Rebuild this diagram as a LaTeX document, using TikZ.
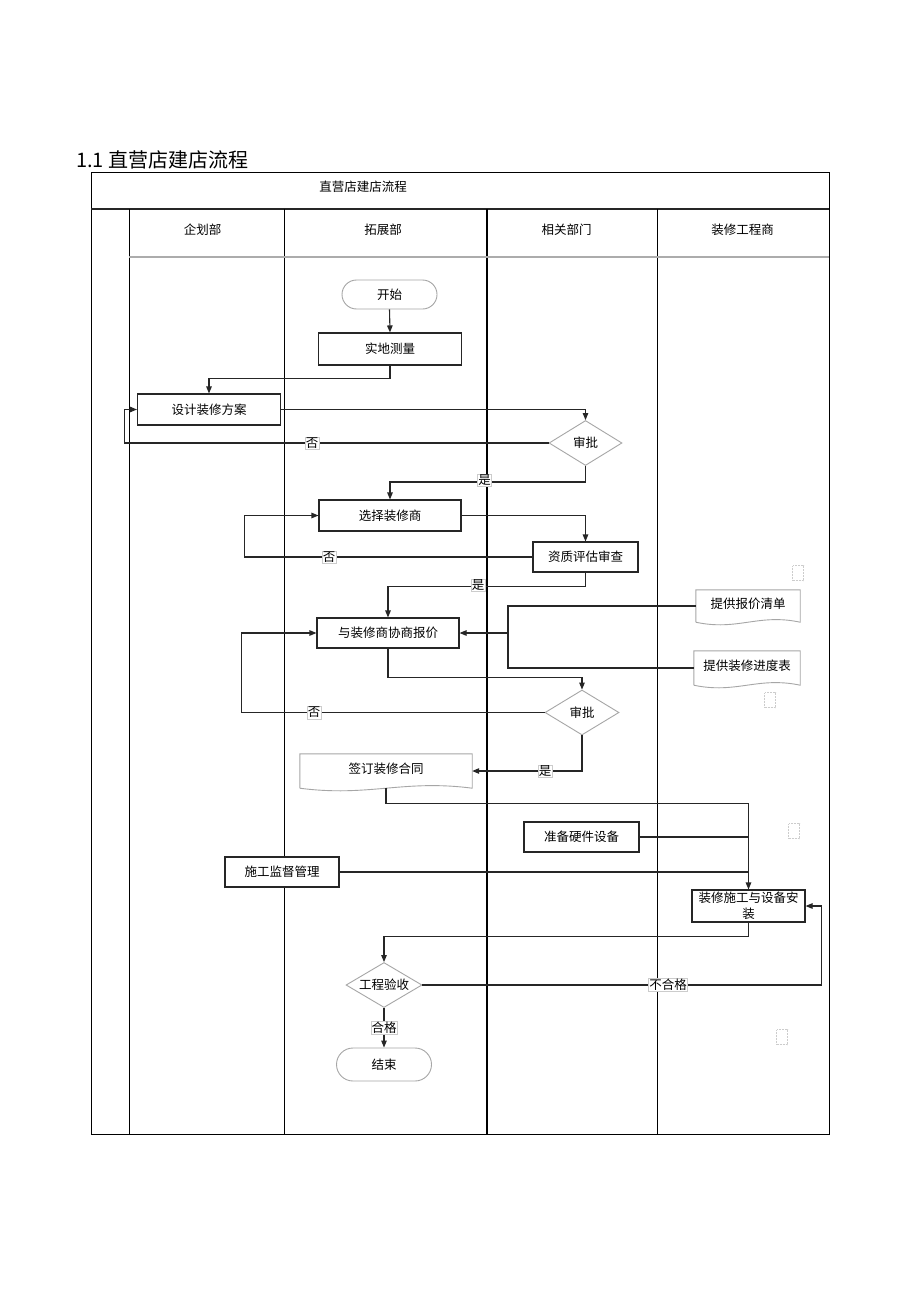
\documentclass[tikz,border=0pt]{standalone}
\usepackage{fontspec}
\setmainfont{Noto Sans CJK SC}
\usetikzlibrary{shapes.geometric,shapes.misc,arrows.meta,calc}
\begin{document}
\begin{tikzpicture}[x=1pt,y=-1pt,
  txt/.style={font=\fontsize{12.5}{16}\selectfont},
  proc/.style={txt,draw=black!85,line width=1.1pt,rectangle,inner sep=0pt,fill=white},
  term/.style={txt,draw=gray!70,line width=0.9pt,rounded rectangle,inner sep=0pt,fill=white},
  dec/.style={txt,draw=gray!70,line width=0.9pt,diamond,inner sep=0pt,aspect=1.7,fill=white},
  docnode/.style={txt,draw=none,rectangle,inner sep=0pt},
  docline/.style={draw=gray!70,line width=0.9pt},
  lbl/.style={txt,fill=white,draw=gray!40,line width=0.4pt,inner sep=0.8pt},
  ghost/.style={draw=gray!40,densely dotted,line width=0.5pt,minimum width=11pt,minimum height=15pt,inner sep=0pt},
  arr/.style={draw=black!85,line width=1.1pt,-{Triangle[length=7pt,width=5.5pt]}},
  ln/.style={draw=black!85,line width=1.1pt},
]
\useasboundingbox (0,0) rectangle (920,1303);
\fill[white] (0,0) rectangle (920,1303);

% title
\node[anchor=west,font=\fontsize{20}{24}\selectfont,inner sep=0pt] (title) at (76,160) {1.1 直营店建店流程};

% frame and lanes
\draw[line width=0.9pt] (91,172) rectangle (829,1134);
\draw[line width=2.2pt,black!85] (91,209) -- (829,209);
\draw[line width=1pt] (129,209) -- (129,1134);
\draw[line width=1pt] (284,209) -- (284,1134);
\draw[line width=2pt] (487,209) -- (487,1134);
\draw[line width=1pt] (657,209) -- (657,1134);
\draw[line width=1.3pt,gray!65] (129,257) -- (829,257);

\node[txt] (head) at (363,187) {直营店建店流程};
\node[txt] (lane1) at (202.5,230) {企划部};
\node[txt] (lane2) at (383,230) {拓展部};
\node[txt] (lane3) at (566.5,230) {相关部门};
\node[txt] (lane4) at (742.5,230) {装修工程商};

% nodes
\node[term,minimum width=95pt,minimum height=29pt] (start) at (389.5,294.5) {开始};
\node[proc,minimum width=143pt,minimum height=32pt] (survey) at (390,349) {实地测量};
\node[proc,minimum width=143pt,minimum height=31pt] (design) at (209,409.5) {设计装修方案};
\node[dec,minimum width=73pt,minimum height=45pt] (ap1) at (585.5,443) {审批};
\node[proc,minimum width=142pt,minimum height=31pt] (select) at (390,515.5) {选择装修商};
\node[proc,minimum width=105pt,minimum height=30pt] (qual) at (585.5,557) {资质评估审查};
\node[proc,minimum width=142pt,minimum height=30pt] (nego) at (388,633) {与装修商协商报价};
\node[docnode,minimum width=104pt,minimum height=32pt] (quote) at (748,606) {\raisebox{5pt}{提供报价清单}};
\node[docnode,minimum width=106pt,minimum height=34pt] (sched) at (747,668) {\raisebox{5pt}{提供装修进度表}};
\node[dec,minimum width=74pt,minimum height=45pt] (ap2) at (582,712.5) {审批};
\node[docnode,minimum width=172pt,minimum height=34pt] (contract) at (386,771) {\raisebox{6pt}{签订装修合同}};
\node[proc,minimum width=115pt,minimum height=30pt] (hw) at (581.5,837) {准备硬件设备};
\node[proc,minimum width=114pt,minimum height=30pt] (sup) at (282,872) {施工监督管理};
\node[proc,minimum width=113pt,minimum height=32pt,align=center] (build) at (748.5,906) {装修施工与设备安\\装};
\node[dec,minimum width=76pt,minimum height=45pt] (accept) at (384,985) {工程验收};
\node[term,minimum width=95pt,minimum height=33pt] (end) at (384,1064.5) {结束};

% document outlines
\foreach \n in {quote,sched,contract}{
  \draw[docline] (\n.south west) -- (\n.north west) -- (\n.north east) -- (\n.south east)
    .. controls ($(\n.south east)!0.4!(\n.south west)+(0,-9)$) and ($(\n.south west)!0.4!(\n.south east)+(0,9)$) .. (\n.south west);
}

% small empty boxes
\node[ghost] (g1) at (798,573) {};
\node[ghost] (g2) at (770,700) {};
\node[ghost] (g3) at (794,831) {};
\node[ghost] (g4) at (782,1037) {};

% connectors
\draw[arr] (start.south) -- (survey.north);
\draw[arr] (survey.south) -- ++(0,13) -| (design.north);
\draw[arr] (design.east) -| (ap1.north);
\draw[arr] (ap1.west) -- ++(-424,0) |- (design.west);
\draw[arr] (ap1.south) -- ++(0,16) -| (select.north);
\draw[arr] (select.east) -| (qual.north);
\draw[arr] (qual.west) -- ++(-288,0) |- (select.west);
\draw[arr] (qual.south) -- ++(0,14) -| (nego.north);
\coordinate (jx) at (508,633);
\draw[ln] (quote.west) -| (jx) |- (sched.west);
\draw[arr] (jx) -- (nego.east);
\draw[arr] (nego.south) -- ++(0,29) -| (ap2.north);
\draw[arr] (ap2.west) -- ++(-303,0) |- (nego.west);
\draw[arr] (ap2.south) |- (contract.east);
\draw[arr] (contract.south) -- ++(0,15) -| (build.north);
\draw[ln] (hw.east) -- (hw.east -| build.north);
\draw[ln] (sup.east) -- (sup.east -| build.north);
\draw[arr] (build.south) -- ++(0,14) -| (accept.north);
\draw[arr] (accept.east) -- ++(398.6,0) |- (build.east);
\draw[arr] (accept.south) -- (end.north);

% connector labels
\node[lbl] (l1) at (312,443) {否};
\node[lbl] (l2) at (484.5,480) {是};
\node[lbl] (l3) at (329,557) {否};
\node[lbl] (l4) at (478,585) {是};
\node[lbl] (l5) at (314,712.5) {否};
\node[lbl] (l6) at (545,771) {是};
\node[lbl] (l7) at (668,985) {不合格};
\node[lbl] (l8) at (384,1028) {合格};
\end{tikzpicture}
\end{document}
